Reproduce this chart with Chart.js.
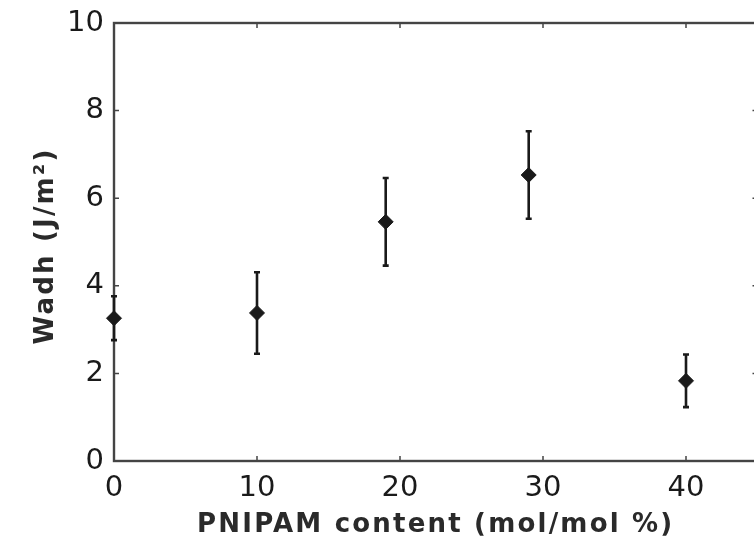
<!DOCTYPE html>
<html><head><meta charset="utf-8">
<script src="https://cdn.jsdelivr.net/npm/chart.js@4"></script>
<style>html,body{margin:0;padding:0;background:#fff;overflow:hidden;width:754px;height:550px}#wrap{width:760px;height:550px}</style>
</head><body><div id="wrap"><canvas id="c" width="760" height="550"></canvas></div>
<script>
const pnipamContent = [0, 10, 19, 29, 40];
const wadh = [3.26, 3.38, 5.46, 6.53, 1.83];
const wadhError = [0.5, 0.93, 1.0, 1.0, 0.6];
const xTicks = [0, 10, 20, 30, 40];
const yTicks = [0, 2, 4, 6, 8, 10];
const xTitle = 'PNIPAM content (mol/mol %)';
const yTitle = 'Wadh (J/m\u00B2)';

const FONT = 'DejaVu Sans';
const ink = '#1a1a1a';
const lineInk = '#444';

const framePlugin = {
  id: 'frame',
  beforeDatasetsDraw(chart) {
    const {ctx, chartArea: a, scales: {x, y}} = chart;
    ctx.save();
    ctx.strokeStyle = lineInk;
    ctx.lineWidth = 2.4;
    ctx.strokeRect(a.left, a.top, a.right - a.left, a.bottom - a.top);
    ctx.lineWidth = 1.5;
    const tl = 5;
    xTicks.forEach(v => {
      const px = x.getPixelForValue(v);
      ctx.beginPath();
      ctx.moveTo(px, a.bottom); ctx.lineTo(px, a.bottom - tl);
      ctx.moveTo(px, a.top); ctx.lineTo(px, a.top + tl);
      ctx.stroke();
    });
    yTicks.forEach(v => {
      const py = y.getPixelForValue(v);
      ctx.beginPath();
      ctx.moveTo(a.left, py); ctx.lineTo(a.left + tl, py);
      ctx.moveTo(a.right, py); ctx.lineTo(a.right - tl, py);
      ctx.stroke();
    });
    // error bars
    ctx.strokeStyle = ink;
    ctx.lineWidth = 2.6;
    pnipamContent.forEach((xv, i) => {
      const px = x.getPixelForValue(xv);
      const pt = y.getPixelForValue(wadh[i] + wadhError[i]);
      const pb = y.getPixelForValue(wadh[i] - wadhError[i]);
      ctx.beginPath();
      ctx.moveTo(px, pt); ctx.lineTo(px, pb);
      ctx.moveTo(px - 3, pt); ctx.lineTo(px + 3, pt);
      ctx.moveTo(px - 3, pb); ctx.lineTo(px + 3, pb);
      ctx.stroke();
    });
    ctx.restore();
  },
  afterDraw(chart) {
    const {ctx, chartArea: a} = chart;
    ctx.save();
    ctx.fillStyle = '#2a2a2a';
    ctx.font = 'bold 26px "' + FONT + '"';
    ctx.letterSpacing = '2.2px';
    ctx.textAlign = 'center';
    ctx.textBaseline = 'alphabetic';
    ctx.fillText(xTitle, (a.left + a.right) / 2, 532);
    ctx.translate(53, (a.top + a.bottom) / 2 + 4);
    ctx.rotate(-Math.PI / 2);
    ctx.fillText(yTitle, 0, 0);
    ctx.restore();
  }
};

new Chart(document.getElementById('c'), {
  type: 'scatter',
  data: {
    datasets: [{
      data: pnipamContent.map((v, i) => ({x: v, y: wadh[i]})),
      pointStyle: 'rectRot',
      pointRadius: 7.5,
      backgroundColor: ink,
      borderColor: ink,
      borderWidth: 1,
      clip: false
    }]
  },
  options: {
    responsive: false,
    animation: false,
    layout: {autoPadding: false, padding: {top: 23, right: 2.5, left: 0, bottom: 0}},
    plugins: {legend: {display: false}, tooltip: {enabled: false}},
    scales: {
      x: {
        type: 'linear', min: 0, max: 45,
        afterBuildTicks: s => { s.ticks = xTicks.map(v => ({value: v})); },
        afterFit: s => { s.height = 89; s.paddingLeft = 0; s.paddingRight = 0; },
        grid: {display: false, drawTicks: false},
        border: {display: false},
        ticks: {color: ink, font: {family: FONT, size: 29}, padding: 10, maxRotation: 0},
        title: {display: false}
      },
      y: {
        type: 'linear', min: 0, max: 10,
        afterBuildTicks: s => { s.ticks = yTicks.map(v => ({value: v})); },
        afterFit: s => { s.width = 114; s.paddingTop = 0; s.paddingBottom = 0; },
        grid: {display: false, drawTicks: false},
        border: {display: false},
        ticks: {color: ink, font: {family: FONT, size: 29}, padding: 10},
        title: {display: false}
      }
    }
  },
  plugins: [framePlugin]
});
</script>
</body></html>
